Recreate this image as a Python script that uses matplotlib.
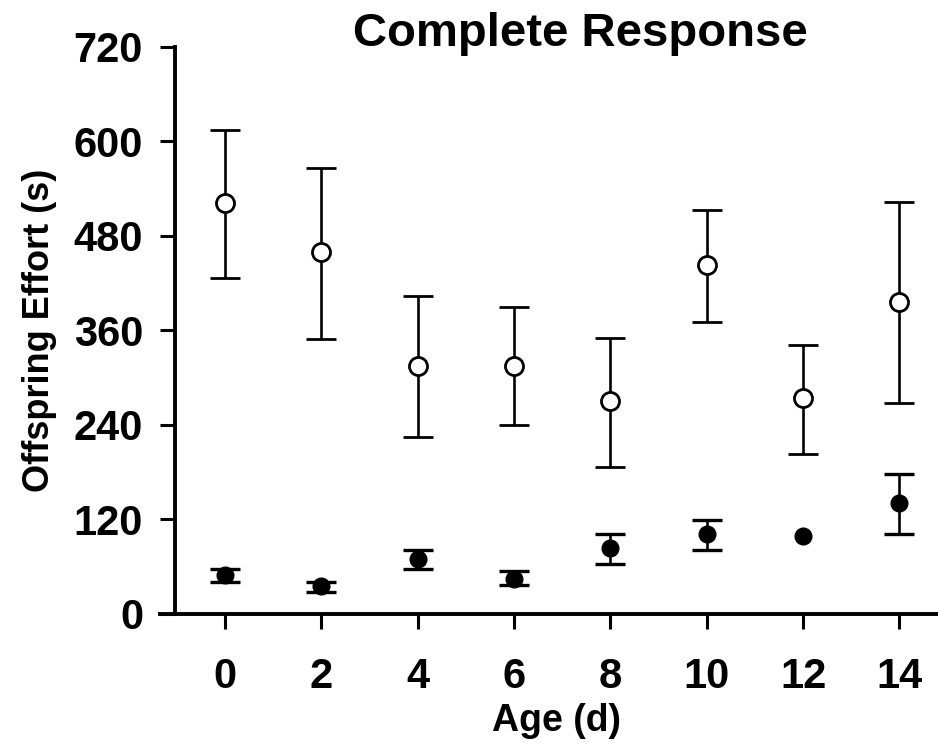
import matplotlib
matplotlib.use("Agg")
import matplotlib.pyplot as plt

plt.rcParams['font.family'] = ['Liberation Sans', 'DejaVu Sans']
plt.rcParams['font.weight'] = 'bold'

# data
age = [0, 2, 4, 6, 8, 10, 12, 14]
open_mean = [522, 460, 315, 315, 270, 443, 274, 396]
open_lo = [427, 349, 225, 240, 187, 371, 203, 268]
open_hi = [614, 566, 404, 390, 350, 513, 342, 523]
fill_mean = [50, 36, 70, 45, 84, 102, 99, 141]
fill_lo = [41, 28, 57, 37, 63, 81, 99, 102]
fill_hi = [57, 41, 81, 54, 102, 119, 99, 178]
yticks = [0, 120, 240, 360, 480, 600, 720]

fig = plt.figure(figsize=(9.38, 7.54), dpi=100)
ax = fig.add_axes([0.1866, 0.1857, 0.8134, 0.752])

err_open = [[m - l for m, l in zip(open_mean, open_lo)], [h - m for m, h in zip(open_mean, open_hi)]]
ax.errorbar(age, open_mean, yerr=err_open, fmt='o', mfc='white', mec='black', mew=2,
            ms=13, ecolor='black', elinewidth=1.9, capsize=11, capthick=2.4, zorder=3)

# filled series: no bar drawn where the error is zero (day 12)
idx = [i for i in range(len(age)) if fill_hi[i] > fill_lo[i]]
ax.errorbar([age[i] for i in idx], [fill_mean[i] for i in idx],
            yerr=[[fill_mean[i] - fill_lo[i] for i in idx], [fill_hi[i] - fill_mean[i] for i in idx]],
            fmt='none', ecolor='black', elinewidth=1.9, capsize=11, capthick=2.4, zorder=3)
ax.plot(age, fill_mean, 'o', color='black', ms=12, zorder=4)

ax.set_xlim(-1.04, 14.8)
ax.set_ylim(0, 720)
ax.set_xticks(age)
ax.set_yticks(yticks)
ax.spines['top'].set_visible(False)
ax.spines['right'].set_visible(False)
ax.spines['left'].set_linewidth(2.8)
ax.spines['bottom'].set_linewidth(2.8)
ax.spines['bottom'].set_bounds(-1.35, 14.8)
ax.tick_params(axis='both', direction='out', length=11, width=2.2, labelsize=30, pad=12)
ax.tick_params(axis='x', pad=20)
for lab in ax.get_xticklabels() + ax.get_yticklabels():
    lab.set_fontweight('bold')

ax.set_xlabel('Age (d)', fontsize=27, fontweight='bold', labelpad=4)
ax.set_ylabel('Offspring Effort (s)', fontsize=26, fontweight='bold', labelpad=12)
fig.text(0.619, 0.955, 'Complete Response', ha='center', va='center', fontsize=34, fontweight='bold')

fig.savefig('out.png', dpi=100)
